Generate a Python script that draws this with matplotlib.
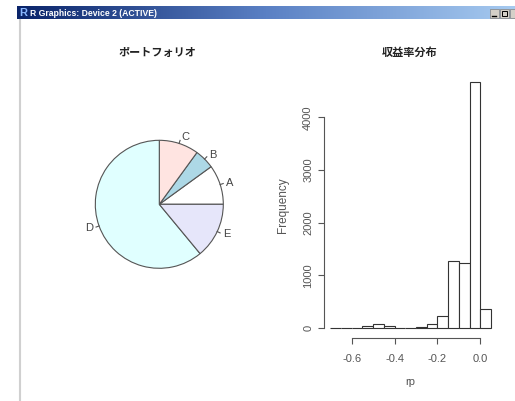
import numpy as np
import matplotlib
matplotlib.use("Agg")
import matplotlib.pyplot as plt
from matplotlib.colors import LinearSegmentedColormap
from matplotlib.patches import Rectangle

plt.rcParams['font.family'] = ['Liberation Sans', 'Noto Sans CJK JP', 'DejaVu Sans']
plt.rcParams['axes.unicode_minus'] = False

# portfolio weights
assets = ["A", "B", "C", "D", "E"]
weights = [0.10, 0.05, 0.10, 0.61, 0.14]
pie_colors = ["white", "lightblue", "mistyrose", "lightcyan", "lavender"]

# return distribution (bin edges and counts)
bin_edges = [-0.70, -0.65, -0.60, -0.55, -0.50, -0.45, -0.40, -0.35,
             -0.30, -0.25, -0.20, -0.15, -0.10, -0.05, 0.00, 0.05]
counts = [2, 8, 10, 35, 75, 35, 0, 0, 15, 75, 235, 1280, 1230, 4680, 360]
x_ticks = [-0.6, -0.4, -0.2, 0.0]
y_ticks = [0, 1000, 2000, 3000, 4000]

W, H = 515, 401
fig = plt.figure(figsize=(W / 100, H / 100), dpi=100)


def px_axes(left, top, right, bottom):
    return fig.add_axes([left / W, 1 - bottom / H, (right - left) / W, (bottom - top) / H])


# background: window frame + title bar
bg = fig.add_axes([0, 0, 1, 1])
grad = np.linspace(0, 1, 256).reshape(1, -1)
bar_cmap = LinearSegmentedColormap.from_list("bar", ["#0a246a", "#5a80c4", "#a6caf0"])
bg.imshow(grad, extent=(17, W, 19.5, 7), aspect='auto', cmap=bar_cmap)
bg.set_xlim(0, W)
bg.set_ylim(H, 0)
bg.axis('off')
bg.plot([20, 20], [19.5, H], color='#d0d0d0', lw=1.5)
bg.text(19.5, 13.5, "R", color='#8ab8ff', fontweight='bold', fontsize=8, va='center', ha='left')
bg.text(30, 13.5, "R Graphics: Device 2 (ACTIVE)", color='white', fontweight='bold',
        fontsize=6.2, va='center', ha='left')
for bx in (490, 500, 510):
    bg.add_patch(Rectangle((bx, 9), 9, 8.5, facecolor='#d4d0c8', edgecolor='#808080', lw=0.5))
bg.plot([492, 496], [15.5, 15.5], color='black', lw=1)
bg.add_patch(Rectangle((502, 11), 5, 4.5, facecolor='none', edgecolor='black', lw=0.7))

# titles and axis labels
bg.text(157, 52, "ポートフォリオ", ha='center', va='center', fontsize=8, fontweight='bold',
        family=['Noto Sans CJK JP'], color='#222')
bg.text(410, 52, "収益率分布", ha='center', va='center', fontsize=8, fontweight='bold',
        family=['Noto Sans CJK JP'], color='#222')
bg.text(283, 205, "Frequency", rotation=90, ha='center', va='center', fontsize=8.5, color='#555')
bg.text(410.6, 382, "rp", ha='center', va='center', fontsize=8, color='#555')

# pie chart
ax1 = px_axes(63.3, 108.3, 255.3, 300.3)
wedges, texts = ax1.pie(weights, labels=assets, colors=pie_colors, startangle=0,
                        counterclock=True, labeldistance=1.1,
                        wedgeprops=dict(edgecolor='#555555', linewidth=0.8),
                        textprops=dict(fontsize=8, color='#444'))
cum = np.cumsum([0] + weights)
mids = (cum[:-1] + cum[1:]) / 2 * 2 * np.pi
for a in mids:
    ax1.plot([np.cos(a), 1.05 * np.cos(a)], [np.sin(a), 1.05 * np.sin(a)], color='#555', lw=0.8)
ax1.set_xlim(-1.5, 1.5)
ax1.set_ylim(-1.5, 1.5)
ax1.axis('off')

# histogram
ax2 = px_axes(323.9, 71.8, 497.4, 337.9)
widths = np.diff(bin_edges)
ax2.bar(bin_edges[:-1], counts, width=widths, align='edge', color='white',
        edgecolor='#333333', linewidth=0.8)
xpad = 0.04 * (bin_edges[-1] - bin_edges[0])
ypad = 0.04 * max(counts)
ax2.set_xlim(bin_edges[0] - xpad, bin_edges[-1] + xpad)
ax2.set_ylim(-ypad, max(counts) + ypad)
ax2.set_facecolor('none')
for s in ('top', 'right'):
    ax2.spines[s].set_visible(False)
ax2.spines['left'].set_bounds(y_ticks[0], y_ticks[-1])
ax2.spines['bottom'].set_bounds(x_ticks[0], x_ticks[-1])
for s in ('left', 'bottom'):
    ax2.spines[s].set_color('#555')
    ax2.spines[s].set_linewidth(0.8)
ax2.set_xticks(x_ticks)
ax2.set_xticklabels([f"{v:.1f}" for v in x_ticks])
ax2.set_yticks(y_ticks)
ax2.set_yticklabels([str(v) for v in y_ticks], rotation=90, va='center')
ax2.tick_params(axis='both', direction='out', length=4.3, width=0.8, colors='#555',
                labelsize=8, labelcolor='#555')
ax2.tick_params(axis='x', pad=7)
ax2.tick_params(axis='y', pad=3.4)

fig.savefig("out.png", dpi=100)
